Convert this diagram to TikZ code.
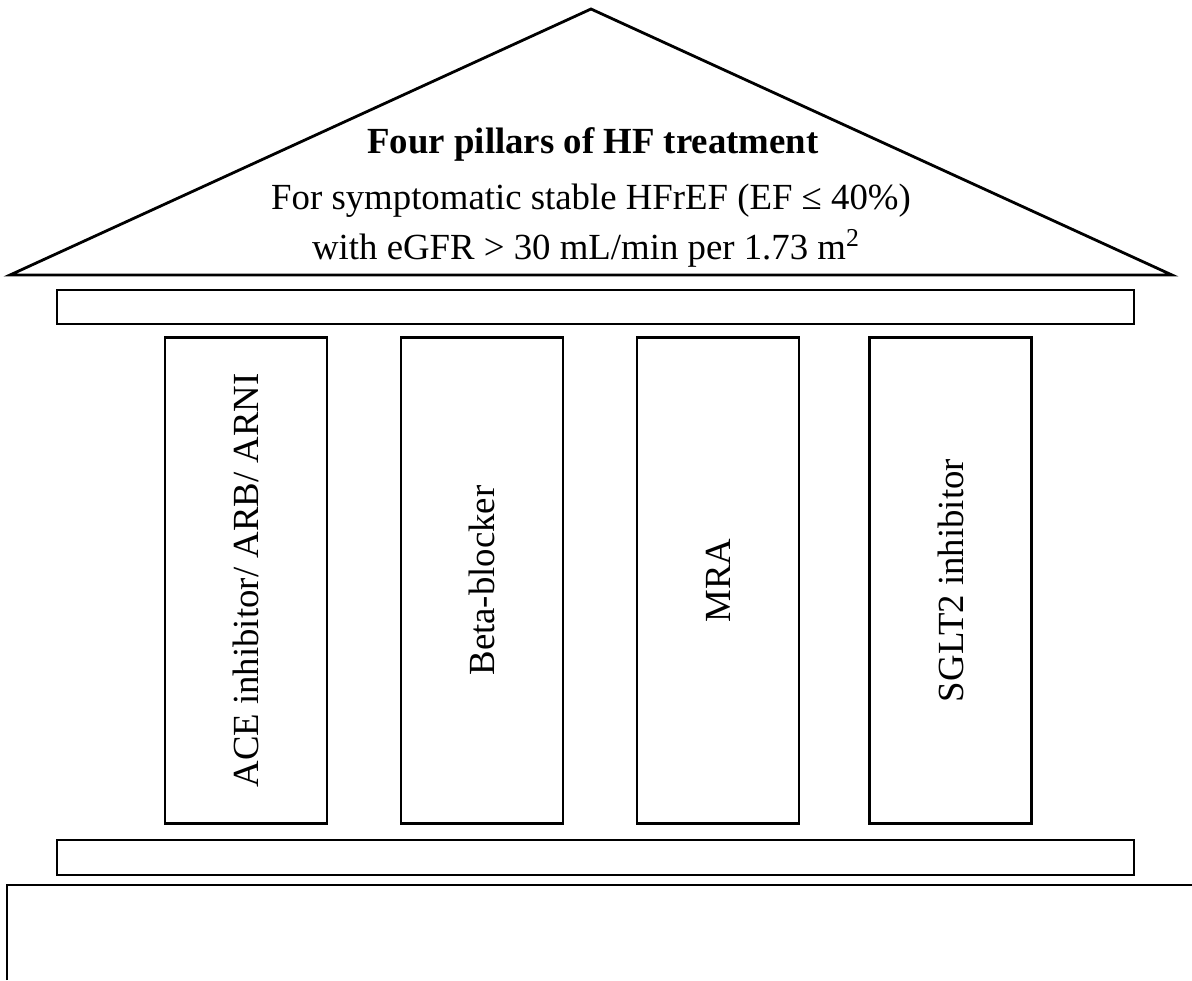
\documentclass[tikz,border=0pt]{standalone}
\usepackage{fontspec}
\setmainfont{Liberation Serif}
\usetikzlibrary{positioning}
\tikzset{
  edge/.style={draw,line width=1.4pt},
  beam/.style={edge,minimum width=538.5pt,minimum height=17pt,inner sep=0pt},
  pillar/.style={edge,rotate=90,minimum width=243pt,minimum height=81pt,inner sep=0pt,font=\fontsize{18.4}{22}\selectfont},
  roofline/.style={anchor=base,inner sep=0pt,font=\fontsize{18.4}{22}\selectfont}
}

\begin{document}
\begin{tikzpicture}[x=0.5pt,y=-0.5pt]
\useasboundingbox (0,0) rectangle (1192,980);
% roof
\coordinate (eaveL) at (10,275);
\coordinate (apex) at (591,9);
\coordinate (eaveR) at (1172,275);
\draw[line width=1.4pt,line join=miter] (eaveL) -- (apex) -- (eaveR) -- cycle;
\node[roofline,font=\fontsize{18.4}{22}\selectfont\bfseries] (title) at (593,153) {Four pillars of HF treatment};
\node[roofline] (scope) at (591,209) {For symptomatic stable HFrEF (EF ≤ 40\%)};
\node[roofline] (renal) at (586,259) {with eGFR > 30 mL/min per 1.73 m\textsuperscript{2}};
% beams
\node[beam] (lintel) at (595.5,307) {};
\node[beam,minimum height=17.5pt] (plinth) at (595.5,857.5) {};
% pillars
\node[pillar] (acei) at (246,580.5) {ACE inhibitor/ ARB/ ARNI};
\node[pillar] (bb) at (482,580.5) {Beta-blocker};
\node[pillar] (mra) at (718,580.5) {MRA};
\node[pillar] (sglt) at (950.5,580.5) {SGLT2 inhibitor};
% base
\coordinate (baseL) at (7,980);
\coordinate (baseC) at (7,885);
\coordinate (baseR) at (1192,885);
\draw[line width=1.4pt] (baseL) -- (baseC) -- (baseR);
\end{tikzpicture}
\end{document}
